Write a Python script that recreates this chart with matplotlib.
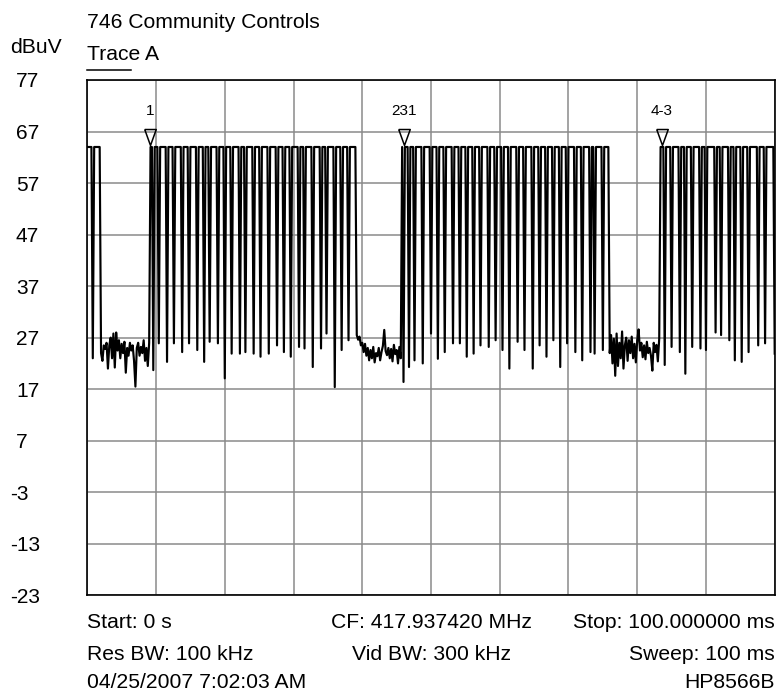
import numpy as np
import matplotlib
matplotlib.use("Agg")
import matplotlib.pyplot as plt
from matplotlib.transforms import blended_transform_factory
from matplotlib.lines import Line2D

# ---------------- data ----------------
title_text = "746 Community Controls"
trace_label = "Trace A"
unit_label = "dBuV"
y_tick_values = [77, 67, 57, 47, 37, 27, 17, 7, -3, -13, -23]
x_grid_ms = [0, 10, 20, 30, 40, 50, 60, 70, 80, 90, 100]

sample_step_ms = 0.2
sweep_ms = 100.0
high_level_dbuv = 64.0

lead_dip_ms = [0.8]
lead_dip_dbuv = [23.0]

noise1_start_ms = 2.0
noise1_dbuv = [24.0, 22.5, 25.5, 24.8, 26.0, 21.0, 25.5, 27.0, 23.0, 27.8, 21.2, 28.0,
               24.5, 26.5, 23.0, 25.8, 24.0, 26.2, 20.2, 25.0, 23.5, 26.0, 24.5, 25.5,
               22.5, 17.5, 25.0, 26.0, 23.5, 25.2, 24.0, 26.5, 22.5, 25.0, 21.5, 26.0]

burst1_dip_ms = [9.61, 10.43, 11.64, 12.66, 13.78, 14.84, 15.91, 17.03, 17.85, 18.97,
                 20.03, 21.05, 22.12, 23.09, 24.15, 25.22, 26.34, 27.55, 28.62, 29.59,
                 30.70, 31.67, 32.83, 34.0, 34.82, 36.04, 37.0, 37.97]
burst1_dip_dbuv = [20.7, 25.9, 22.3, 25.9, 24.2, 25.9, 24.6, 22.3, 26.2, 25.9,
                   19.1, 23.9, 23.9, 24.2, 23.9, 23.3, 23.9, 25.5, 24.2, 23.3,
                   25.2, 24.9, 21.3, 24.9, 27.8, 17.4, 24.6, 26.5]

noise2_start_ms = 39.2
noise2_dbuv = [27.5, 26.6, 27.2, 25.5, 26.0, 24.2, 25.8, 23.5, 25.0, 22.6, 24.6, 23.0,
               25.2, 22.2, 24.0, 23.4, 25.0, 22.6, 24.2, 25.4, 28.5, 24.4, 23.6, 25.0,
               23.0, 24.8, 22.4, 25.6, 23.8, 24.6, 22.0, 25.2, 23.0]

burst2_dip_ms = [46.0, 46.85, 47.67, 48.79, 49.95, 51.07, 52.04, 53.10, 54.12, 55.19,
                 56.16, 57.27, 58.34, 59.41, 60.43, 61.49, 62.56, 63.53, 64.74, 65.71,
                 66.83, 67.80, 68.86, 69.88, 71.09, 72.06, 73.23, 73.86, 74.93]
burst2_dip_dbuv = [18.4, 21.3, 22.6, 22.0, 27.8, 22.9, 24.2, 25.9, 25.9, 23.3,
                   23.9, 25.5, 25.2, 26.5, 24.6, 21.0, 26.2, 24.6, 21.0, 25.5,
                   23.3, 26.5, 21.3, 25.9, 24.2, 22.6, 24.2, 23.9, 24.6]

noise3_start_ms = 76.0
noise3_dbuv = [24.0, 27.5, 22.0, 26.8, 19.6, 27.8, 21.5, 26.0, 23.0, 28.2, 21.0, 25.5,
               27.0, 22.5, 26.5, 24.0, 27.2, 23.0, 25.8, 22.2, 26.5, 28.6, 24.5, 26.0,
               23.2, 25.5, 22.8, 26.2, 24.0, 25.0, 23.5, 20.6, 26.0, 24.2, 25.6, 22.4, 26.8]

burst3_dip_ms = [84.04, 85.01, 86.13, 87.05, 88.07, 89.13, 90.10, 91.32, 92.29, 93.40,
                 94.23, 95.20, 96.16, 97.62, 98.59, 100.0]
burst3_dip_dbuv = [21.7, 25.2, 24.2, 20.0, 25.2, 24.9, 24.6, 28.0, 27.5, 26.5,
                   22.6, 22.3, 24.2, 25.5, 25.9, 23.9]

marker_ms = [9.1, 46.07, 83.56]
marker_labels = ["1", "231", "4-3"]

footer_left = ["Start: 0 s", "Res BW: 100 kHz", "04/25/2007 7:02:03 AM"]
footer_center = ["CF: 417.937420 MHz", "Vid BW: 300 kHz"]
footer_right = ["Stop: 100.000000 ms", "Sweep: 100 ms", "HP8566B"]

# ---------------- build sampled trace ----------------
n_samples = int(round(sweep_ms / sample_step_ms)) + 1
t_ms = np.linspace(0.0, sweep_ms, n_samples)
trace = np.full(n_samples, high_level_dbuv)


def idx(tm):
    return int(round(tm / sample_step_ms))


for start, vals in [(noise1_start_ms, noise1_dbuv), (noise2_start_ms, noise2_dbuv),
                    (noise3_start_ms, noise3_dbuv)]:
    s = idx(start)
    trace[s:s + len(vals)] = vals

for dips, floors in [(lead_dip_ms, lead_dip_dbuv), (burst1_dip_ms, burst1_dip_dbuv),
                     (burst2_dip_ms, burst2_dip_dbuv), (burst3_dip_ms, burst3_dip_dbuv)]:
    for d, f in zip(dips, floors):
        trace[min(idx(d), n_samples - 1)] = f

# ---------------- figure ----------------
W, H = 777, 694
plt.rcParams["font.family"] = ["Liberation Sans", "DejaVu Sans"]
fig = plt.figure(figsize=(W / 100, H / 100), dpi=100)
L, R, T, B = 87.3, 774.7, 80.0, 595.3
ax = fig.add_axes([L / W, 1 - B / H, (R - L) / W, (B - T) / H])
ax.set_xlim(0, sweep_ms)
ax.set_ylim(min(y_tick_values), max(y_tick_values))
ax.set_xticks(x_grid_ms)
ax.set_yticks(y_tick_values)
ax.tick_params(length=0, labelbottom=False, labelleft=False)
ax.grid(True, color="#8a8a8a", lw=1.1)
ax.set_axisbelow(True)
for sp in ax.spines.values():
    sp.set_color("black")
    sp.set_linewidth(1.2)

ax.plot(t_ms, trace, color="black", lw=1.55, solid_joinstyle="round", clip_on=True)

# markers (hollow down-pointing triangles, tip at trace level)
tri = [(-0.36, 1.0), (0.36, 1.0), (0.0, 0.0), (-0.36, 1.0)]
for m, lab in zip(marker_ms, marker_labels):
    ax.plot([m], [high_level_dbuv + 0.3], marker=tri, markersize=23, mfc="none",
            mec="black", mew=1.1, ls="none")
    ax.text(m, 71.0, lab, ha="center", va="center", fontsize=11,
            family=["Liberation Sans Narrow", "Liberation Sans", "DejaVu Sans"])

# y tick labels
trans = blended_transform_factory(fig.transFigure, ax.transData)
for v in y_tick_values:
    xpx = 10 if v < 0 else 16
    ax.text(xpx / W, v - 1.45, str(v), transform=trans, ha="left", va="baseline",
            fontsize=15, clip_on=False)

# header texts
fig.text(L / W, 1 - 28.3 / H, title_text, ha="left", va="baseline", fontsize=15.2)
fig.text(L / W, 1 - 60 / H, trace_label, ha="left", va="baseline", fontsize=15.2)
fig.text(10 / W, 1 - 53.3 / H, unit_label, ha="left", va="baseline", fontsize=15.2)
fig.add_artist(Line2D([L / W, 131 / W], [1 - 70 / H, 1 - 70 / H], color="black", lw=1.1,
                      transform=fig.transFigure))

# footer texts
rows = [628.3, 660.0, 688.3]
for i, s in enumerate(footer_left):
    fig.text(L / W, 1 - rows[i] / H, s, ha="left", va="baseline", fontsize=15.2)
for i, s in enumerate(footer_center):
    fig.text((L + R) / 2 / W, 1 - rows[i] / H, s, ha="center", va="baseline", fontsize=15.2)
for i, s in enumerate(footer_right):
    fig.text(R / W, 1 - rows[i] / H, s, ha="right", va="baseline", fontsize=15.2)

fig.savefig("out.png", dpi=100, facecolor="white")
